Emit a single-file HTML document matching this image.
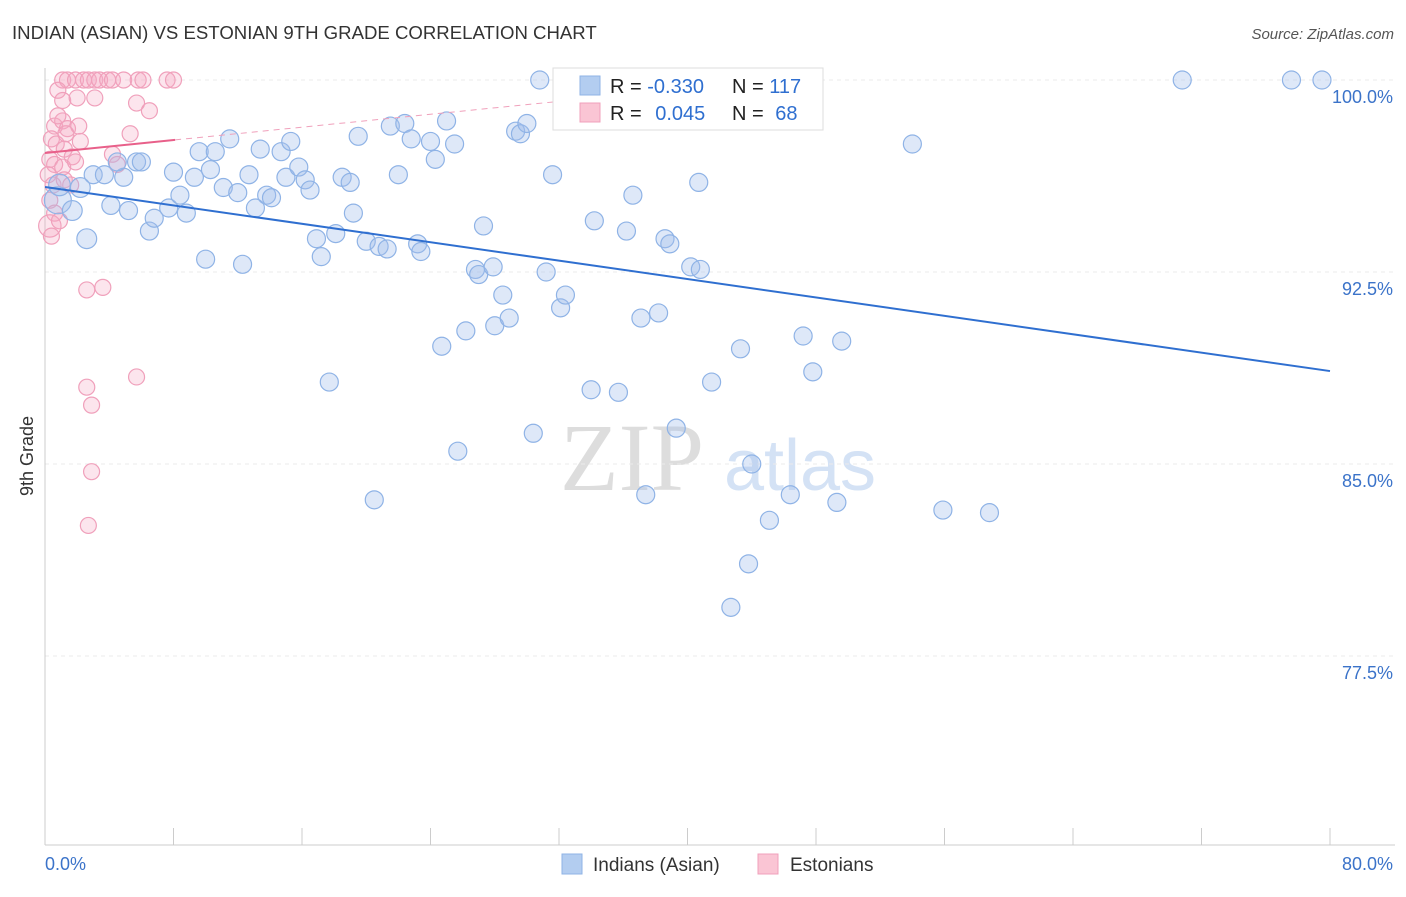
<!DOCTYPE html>
<html><head><meta charset="utf-8"><style>
body{margin:0;background:#fff;font-family:"Liberation Sans",sans-serif}
svg text{font-family:"Liberation Sans",sans-serif}
</style></head><body>
<svg id="chart" width="1406" height="892">
<text x="12" y="39" font-size="18.6" fill="#333">INDIAN (ASIAN) VS ESTONIAN 9TH GRADE CORRELATION CHART</text>
<text x="1394" y="39" font-size="15" fill="#555" text-anchor="end" font-style="italic">Source: ZipAtlas.com</text>
<text x="33" y="456" font-size="18" fill="#333" transform="rotate(-90 33 456)" text-anchor="middle">9th Grade</text>
<g>
<text x="632" y="490" font-size="96" fill="#ddd" text-anchor="middle" style="font-family:'Liberation Serif',serif">ZIP</text>
<text x="800" y="490" font-size="72" fill="#d4e2f5" text-anchor="middle">atlas</text>
</g>
<g id="grid"></g><g id="axes"></g><g id="marks"></g>
<g>
<rect x="553" y="68" width="270" height="62" fill="#fff" stroke="#ddd"/>
<rect x="580" y="76" width="20" height="19" fill="#b3cdf0" stroke="#8fb3e6"/>
<rect x="580" y="103" width="20" height="19" fill="#fac5d4" stroke="#f0a0bb"/>
<text x="610" y="93" font-size="20" fill="#222">R = <tspan fill="#2f6fd0">-0.330</tspan></text>
<text x="732" y="93" font-size="20" fill="#222">N = <tspan fill="#2f6fd0">117</tspan></text>
<text x="610" y="120" font-size="20" fill="#222">R = <tspan fill="#2f6fd0" dx="8">0.045</tspan></text>
<text x="732" y="120" font-size="20" fill="#222">N = <tspan fill="#2f6fd0" dx="6">68</tspan></text>
</g>
<g>
<rect x="562" y="854" width="20" height="20" fill="#b3cdf0" stroke="#8fb3e6"/>
<text x="593" y="871" font-size="19" fill="#333">Indians (Asian)</text>
<rect x="758" y="854" width="20" height="20" fill="#fac5d4" stroke="#f0a0bb"/>
<text x="790" y="871" font-size="19" fill="#333">Estonians</text>
</g>
</svg>
<script>
const blueX=[30.8,46.8,70.8,77.6,79.5,54.0,0.8,1.7,0.9,2.2,2.6,3.0,3.7,4.1,4.9,4.5,5.7,6.0,5.2,6.5,6.8,7.7,8.0,8.4,8.8,9.3,9.6,10.0,10.3,10.6,11.1,11.5,12.0,12.3,12.7,13.1,13.4,13.8,14.1,14.7,15.0,15.3,15.8,16.2,16.5,16.9,17.2,17.7,18.1,18.5,19.0,19.2,19.5,20.0,20.5,20.8,21.3,21.5,22.0,22.4,22.8,23.2,23.4,24.0,24.3,24.7,25.0,25.5,25.7,26.2,26.8,27.0,27.3,27.9,28.0,28.5,28.9,29.3,29.6,30.0,30.4,31.2,31.6,32.1,32.4,34.0,34.2,35.7,36.2,36.6,37.1,37.4,38.2,38.6,38.9,39.3,40.2,40.7,40.8,41.5,42.7,43.3,43.8,44.0,45.1,46.4,47.2,47.8,49.3,49.6,55.9,58.8];
const blueY=[100,100,100,100,100,97.5,95.3,94.9,95.9,95.8,93.8,96.3,96.3,95.1,96.2,96.8,96.8,96.8,94.9,94.1,94.6,95.0,96.4,95.5,94.8,96.2,97.2,93.0,96.5,97.2,95.8,97.7,95.6,92.8,96.3,95.0,97.3,95.5,95.4,97.2,96.2,97.6,96.6,96.1,95.7,93.8,93.1,88.2,94.0,96.2,96.0,94.8,97.8,93.7,83.6,93.5,93.4,98.2,96.3,98.3,97.7,93.6,93.3,97.6,96.9,89.6,98.4,97.5,85.5,90.2,92.6,92.4,94.3,92.7,90.4,91.6,90.7,98.0,97.9,98.3,86.2,92.5,96.3,91.1,91.6,87.9,94.5,87.8,94.1,95.5,90.7,83.8,90.9,93.8,93.6,86.4,92.7,96.0,92.6,88.2,79.4,89.5,81.1,85.0,82.8,83.8,90.0,88.6,83.5,89.8,83.2,83.1];
const blueSize=[1,1,1,1,1,1,1.5,1.1,1.2,1.1,1.1,1,1,1,1,1,1,1,1,1,1,1,1,1,1,1,1,1,1,1,1,1,1,1,1,1,1,1,1,1,1,1,1,1,1,1,1,1,1,1,1,1,1,1,1,1,1,1,1,1,1,1,1,1,1,1,1,1,1,1,1,1,1,1,1,1,1,1,1,1,1,1,1,1,1,1,1,1,1,1,1,1,1,1,1,1,1,1,1,1,1,1,1,1,1,1,1,1,1,1,1,1];
const pinkX=[1.1,1.4,1.9,2.4,2.7,3.1,3.4,3.9,4.2,4.9,5.8,6.1,7.6,8.0,0.8,1.1,2.0,3.1,5.7,6.5,0.6,1.1,1.4,2.1,0.4,0.7,1.2,1.7,2.2,0.3,0.6,1.1,0.2,0.5,1.2,0.3,0.6,0.3,0.4,0.9,4.2,4.5,5.3,2.6,3.6,2.6,2.9,5.7,2.9,2.7,1.9,1.6,0.8,1.3];
const pinkY=[100,100,100,100,100,100,100,100,100,100,100,100,100,100,99.6,99.2,99.3,99.3,99.1,98.8,98.2,98.4,98.1,98.2,97.7,97.5,97.3,97.0,97.6,96.9,96.7,96.6,96.3,95.9,96.1,95.3,94.8,94.3,93.9,94.5,97.1,96.7,97.9,91.8,91.9,88.0,87.3,88.4,84.7,82.6,96.8,95.9,98.6,97.9];
const pinkSize=[1,1,1,1,1,1,1,1,1,1,1,1,1,1,1,1,1,1,1,1,1,1,1,1,1,1,1,1,1,1,1,1,1,1,1,1,1,1.4,1,1,1,1,1,1,1,1,1,1,1,1,1,1,1,1];
const blueTrend=[95.82,88.63];
const pinkTrend=[97.15,97.66];
const yTicks=[100,92.5,85,77.5];
const yTickLabels=["100.0%","92.5%","85.0%","77.5%"];
const xLabels=["0.0%","80.0%"];

const NS="http://www.w3.org/2000/svg";
const X=v=>45+v/80*1285, Y=v=>80+(100-v)*25.6;
function mk(t,a,p){const e=document.createElementNS(NS,t);for(const k in a)e.setAttribute(k,a[k]);p.appendChild(e);return e;}
const grid=document.getElementById('grid'),axes=document.getElementById('axes'),marks=document.getElementById('marks');
yTicks.forEach((v,i)=>{
 const l=mk('line',{x1:45,x2:1395,y1:Y(v),y2:Y(v),stroke:'#ebebeb','stroke-dasharray':'4,4'},grid);
 
 
 const t=mk('text',{x:1393,y:Y(v)+23,'font-size':18,fill:'#3b73c9','text-anchor':'end'},axes);
 t.textContent=yTickLabels[i];
 
 
});
mk('line',{x1:45,x2:45,y1:68,y2:845,stroke:'#ccc'},axes);
const xa=mk('line',{x1:45,x2:1395,y1:845,y2:845,stroke:'#ccc'},axes);


for(let k=1;k<=10;k++){mk('line',{x1:X(k*8),x2:X(k*8),y1:828,y2:845,stroke:'#ccc'},axes);}
[[0,'start',45],[80,'end',1393]].forEach((d,i)=>{
 const t=mk('text',{x:d[2],y:870,'font-size':18,fill:'#3b73c9','text-anchor':d[1]},axes);
 t.textContent=xLabels[i];
 
 
});
pinkX.forEach((x,i)=>{
 const c=mk('circle',{cx:X(x),cy:Y(pinkY[i]),r:8*pinkSize[i],fill:'rgba(245,170,195,0.3)',stroke:'#f0a0bb','stroke-width':1.2},marks);
 
 
});
blueX.forEach((x,i)=>{
 const c=mk('circle',{cx:X(x),cy:Y(blueY[i]),r:9*blueSize[i],fill:'rgba(160,190,235,0.35)',stroke:'#8fb3e6','stroke-width':1.2},marks);
 
 
});
const bt=mk('line',{x1:X(0),y1:Y(blueTrend[0]),x2:X(80),y2:Y(blueTrend[1]),stroke:'#2f6fd0','stroke-width':2},marks);


const slope=(pinkTrend[1]-pinkTrend[0])/8.1;
const pd=mk('line',{x1:X(8.1),y1:Y(pinkTrend[1]),x2:X(32),y2:Y(pinkTrend[0]+slope*32),stroke:'#f0a0bb','stroke-width':1,'stroke-dasharray':'6,5'},marks);


const pt=mk('line',{x1:X(0),y1:Y(pinkTrend[0]),x2:X(8.1),y2:Y(pinkTrend[1]),stroke:'#e8608a','stroke-width':2},marks);


</script>
</body></html>
